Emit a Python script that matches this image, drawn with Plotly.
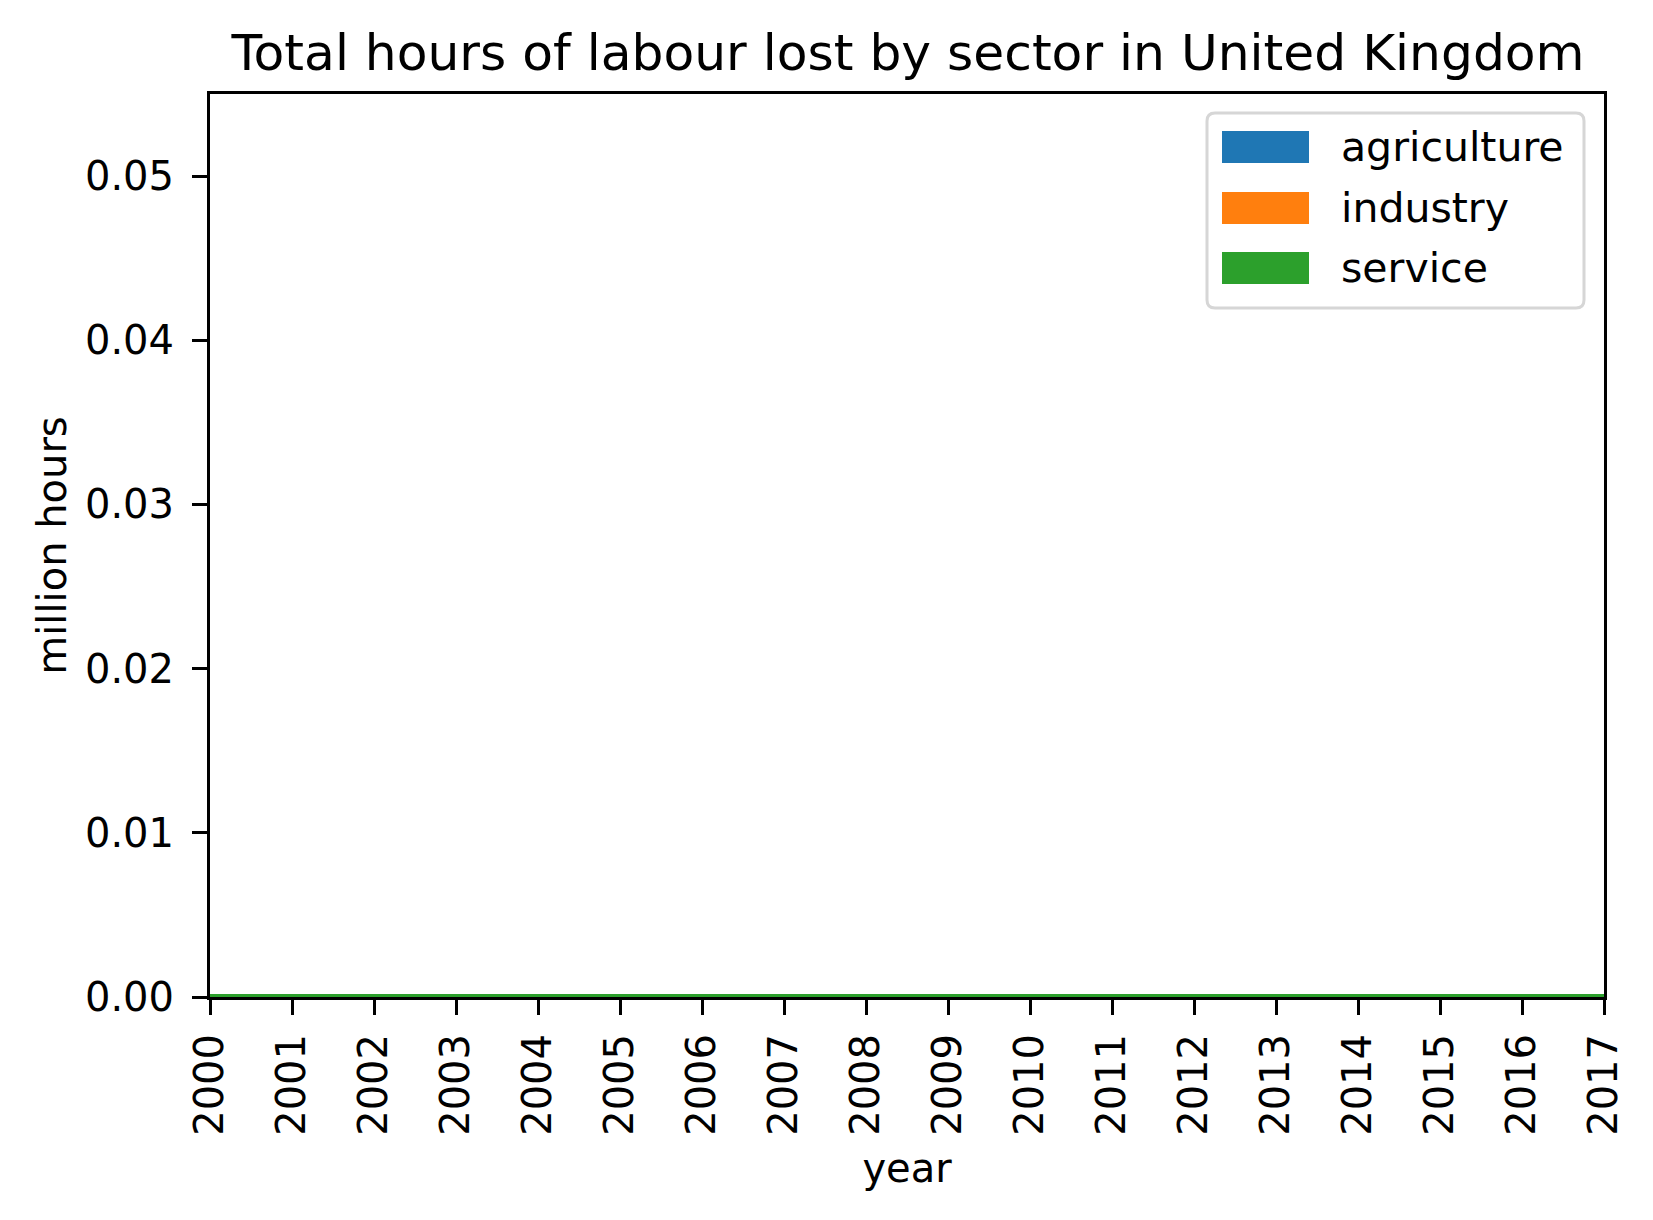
import plotly.graph_objects as go

years = list(range(2000, 2018))
agriculture = [0.0] * 18
industry = [0.0] * 18
service = [0.0] * 18

sectors = ['agriculture', 'industry', 'service']
values = [agriculture, industry, service]
colors = ['#1f77b4', '#ff7f0e', '#2ca02c']

W, H = 1653, 1220
L, R, T, B = 202, 57, 86, 231
pw, ph = W - L - R, H - T - B


def px(x):
    return (x - L) / pw


def py(y):
    return (H - B - y) / ph


fig = go.Figure()
for name, vals, col in zip(sectors, values, colors):
    fig.add_trace(go.Scatter(
        x=years, y=vals, name=name, mode='lines',
        stackgroup='one', fillcolor=col,
        line=dict(color=col, width=6), showlegend=False,
    ))

axis_style = dict(
    showline=True, linecolor='black', linewidth=3, mirror=True,
    ticks='outside', ticklen=15, tickwidth=3, tickcolor='black',
    showgrid=False, zeroline=False,
    tickfont=dict(size=40, color='black'),
)

# legend box drawn like matplotlib (rounded frame, wide colour patches)
bx0, bx1, by0, by1, rad = 1199, 1576, 105, 300, 8
rx, ry = rad / pw, rad / ph
X0, X1, Y0, Y1 = px(bx0), px(bx1), py(by1), py(by0)
path = (f'M {X0 + rx},{Y0} L {X1 - rx},{Y0} Q {X1},{Y0} {X1},{Y0 + ry} '
        f'L {X1},{Y1 - ry} Q {X1},{Y1} {X1 - rx},{Y1} '
        f'L {X0 + rx},{Y1} Q {X0},{Y1} {X0},{Y1 - ry} '
        f'L {X0},{Y0 + ry} Q {X0},{Y0} {X0 + rx},{Y0} Z')
shapes = [dict(type='path', xref='paper', yref='paper', path=path,
               fillcolor='white', line=dict(color='#d6d6d6', width=3), layer='above')]
annotations = []
row_y = [139, 200, 260]
for name, col, ry_ in zip(sectors, colors, row_y):
    shapes.append(dict(type='rect', xref='paper', yref='paper',
                       x0=px(1214), x1=px(1301), y0=py(ry_ + 16), y1=py(ry_ - 16),
                       fillcolor=col, line=dict(width=0), layer='above'))
    annotations.append(dict(text=name, xref='paper', yref='paper',
                            x=px(1331), y=py(ry_), xanchor='left', yanchor='middle',
                            showarrow=False, font=dict(size=41, color='black')))

fig.update_layout(
    width=W, height=H,
    paper_bgcolor='white', plot_bgcolor='white',
    font=dict(family='DejaVu Sans', color='black'),
    title=dict(text='Total hours of labour lost by sector in United Kingdom',
               x=900 / W, xanchor='center', y=1 - 44 / H, yanchor='middle',
               font=dict(size=50.3, color='black')),
    margin=dict(l=L, r=R, t=T, b=B),
    xaxis=dict(axis_style, range=[2000, 2017], dtick=1, tickangle=-90,
               ticklabelstandoff=3,
               title=dict(text='year', font=dict(size=40), standoff=20)),
    yaxis=dict(axis_style, range=[0, 0.055], tickvals=[0, 0.01, 0.02, 0.03, 0.04, 0.05],
               tickformat='.2f', ticklabelstandoff=10,
               title=dict(text='million hours', font=dict(size=40), standoff=6)),
    shapes=shapes,
    annotations=annotations,
    showlegend=False,
)

fig.write_html('out.html')
